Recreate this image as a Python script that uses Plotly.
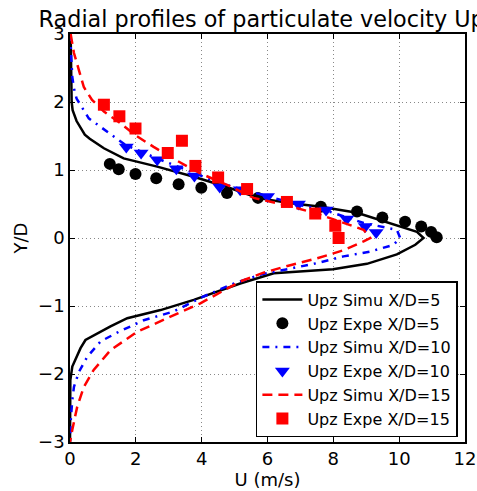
import plotly.graph_objects as go

# Simulation profiles (U in m/s, Y/D)
simu5_u = [0.02, 0.03, 0.05, 0.08, 0.2, 0.45, 0.6, 1.03, 1.63, 2.65, 3.76, 4.77, 5.7, 6.6, 7.62, 8.72, 9.93, 10.54, 10.74,
           10.49, 9.93, 9.02, 7.99, 7.0, 6.19, 5.17, 4.77, 3.76, 2.75, 1.74, 1.23, 0.47, 0.32, 0.07, 0.01, 0.0, 0.0]
simu5_y = [3.0, 2.5, 2.0, 1.88, 1.72, 1.52, 1.46, 1.32, 1.17, 1.05, 0.9, 0.75, 0.59, 0.52, 0.46, 0.37, 0.19, 0.09, 0.0,
           -0.10, -0.24, -0.38, -0.46, -0.49, -0.52, -0.67, -0.74, -0.91, -1.06, -1.18, -1.30, -1.50, -1.62, -1.89, -2.09, -2.5, -3.0]

simu10_u = [0.0, 0.03, 0.07, 0.12, 0.2, 0.57, 1.1, 1.68, 2.65, 3.45, 4.16, 4.97, 6.0, 6.94, 7.8, 8.92, 9.93, 10.03,
            9.83, 9.12, 8.31, 7.5, 6.69, 5.85, 4.97, 4.06, 3.15, 2.24, 1.48, 0.93, 0.52, 0.27, 0.12, 0.07, 0.02, 0.0]
simu10_y = [3.0, 2.6, 2.37, 2.2, 2.05, 1.76, 1.57, 1.37, 1.17, 1.02, 0.88, 0.75, 0.61, 0.49, 0.40, 0.22, 0.12, 0.0,
            -0.10, -0.20, -0.27, -0.37, -0.45, -0.53, -0.67, -0.86, -1.08, -1.21, -1.38, -1.52, -1.75, -1.97, -2.19, -2.38, -2.7, -3.0]

simu15_u = [0.02, 0.07, 0.12, 0.27, 0.42, 0.67, 1.03, 1.53, 1.99, 2.54, 3.2, 3.96, 4.77, 5.58, 6.49, 7.5, 8.51, 8.92, 9.12,
            8.92, 8.31, 7.5, 6.69, 5.88, 5.17, 3.96, 2.95, 2.04, 1.23, 0.72, 0.42, 0.22, 0.07, 0.0]
simu15_y = [3.0, 2.86, 2.72, 2.47, 2.22, 2.03, 1.86, 1.69, 1.51, 1.34, 1.15, 0.95, 0.78, 0.59, 0.49, 0.36, 0.19, 0.12, 0.0,
            -0.05, -0.18, -0.30, -0.40, -0.51, -0.64, -0.96, -1.18, -1.38, -1.65, -1.94, -2.19, -2.48, -2.82, -3.0]

# Experimental points
expe5_u = [1.21, 1.48, 1.99, 2.62, 3.30, 3.99, 4.77, 5.71, 7.62, 8.72, 9.49, 10.18, 10.67, 10.97, 11.14]
expe5_y = [1.09, 1.01, 0.94, 0.88, 0.79, 0.74, 0.66, 0.59, 0.46, 0.39, 0.30, 0.24, 0.17, 0.09, 0.01]

expe10_u = [1.71, 2.16, 2.65, 3.23, 3.78, 4.55, 5.17, 6.0, 6.94, 7.78, 8.41, 8.97, 9.30]
expe10_y = [1.34, 1.25, 1.15, 1.02, 0.91, 0.75, 0.71, 0.61, 0.50, 0.41, 0.28, 0.17, 0.08]

expe15_u = [1.03, 1.50, 1.99, 2.97, 3.40, 3.81, 4.50, 5.38, 6.59, 7.45, 8.06, 8.16]
expe15_y = [1.96, 1.79, 1.61, 1.25, 1.43, 1.06, 0.89, 0.72, 0.53, 0.36, 0.18, 0.00]

x_ticks = [0, 2, 4, 6, 8, 10, 12]
y_ticks = [-3, -2, -1, 0, 1, 2, 3]

FONT = "DejaVu Sans"

fig = go.Figure()
fig.add_trace(go.Scatter(x=simu5_u, y=simu5_y, mode="lines", name="Upz Simu X/D=5",
                         line=dict(color="black", width=2.5)))
fig.add_trace(go.Scatter(x=expe5_u, y=expe5_y, mode="markers", name="Upz Expe X/D=5",
                         marker=dict(color="black", size=12, symbol="circle")))
fig.add_trace(go.Scatter(x=simu10_u, y=simu10_y, mode="lines", name="Upz Simu X/D=10",
                         line=dict(color="#0000ff", width=2.5, dash="7px,6px,2px,6px")))
fig.add_trace(go.Scatter(x=expe10_u, y=expe10_y, mode="markers", name="Upz Expe X/D=10",
                         marker=dict(color="#0000ff", size=13, symbol="triangle-down")))
fig.add_trace(go.Scatter(x=simu15_u, y=simu15_y, mode="lines", name="Upz Simu X/D=15",
                         line=dict(color="#ff0000", width=2.5, dash="10px,6px")))
fig.add_trace(go.Scatter(x=expe15_u, y=expe15_y, mode="markers", name="Upz Expe X/D=15",
                         marker=dict(color="#ff0000", size=12, symbol="square")))

axis_common = dict(
    showline=True, linecolor="black", linewidth=1.5, mirror="ticks",
    ticks="inside", ticklen=5, tickcolor="black", tickwidth=1,
    showgrid=True, gridcolor="#888888", griddash="1px,3px", gridwidth=1,
    zeroline=False, automargin=False,
    tickfont=dict(family=FONT, size=18, color="black"),
)

fig.update_layout(
    width=477, height=491,
    margin=dict(l=70, r=12, t=34, b=49),
    paper_bgcolor="white", plot_bgcolor="white",
    font=dict(family=FONT, color="black"),
    title=dict(text="Radial profiles of particulate velocity Upz", x=0.5, xref="paper",
               y=1 - 19 / 491, yref="container", yanchor="middle", automargin=False,
               font=dict(family=FONT, size=22.3, color="black")),
    xaxis=dict(range=[0, 12], tickvals=x_ticks,
               title=dict(text="U (m/s)", font=dict(family=FONT, size=18), standoff=4),
               **axis_common),
    yaxis=dict(range=[-3, 3], tickvals=y_ticks,
               title=dict(text="Y/D", font=dict(family=FONT, size=18), standoff=6),
               **axis_common),
    showlegend=True,
    legend=dict(x=0.982, y=0.012, xanchor="right", yanchor="bottom",
                bgcolor="white", bordercolor="black", borderwidth=1.5,
                font=dict(family=FONT, size=16, color="black"),
                itemwidth=40, tracegroupgap=0),
)

fig.write_html("out.html", config={"displayModeBar": False},
               post_script="document.body.style.margin='0';")
